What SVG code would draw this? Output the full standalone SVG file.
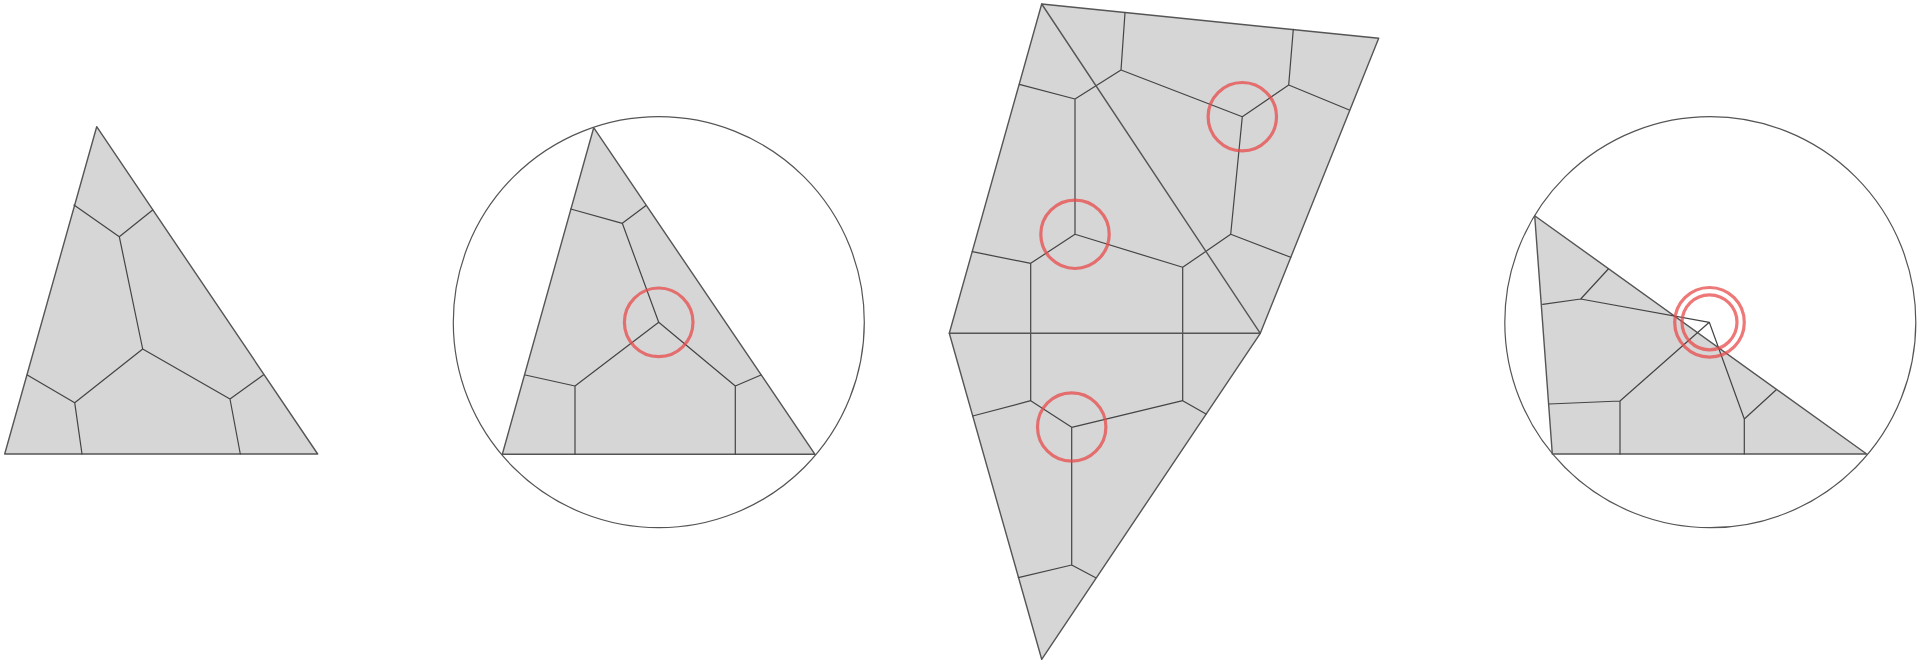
<svg xmlns="http://www.w3.org/2000/svg" width="1920" height="664" viewBox="0 0 1920 664">
<style>
.fill{fill:#d6d6d6;stroke:#555;stroke-width:1.4;stroke-linejoin:round}
.ln{fill:none;stroke:#444;stroke-width:1.2;stroke-linecap:round;stroke-linejoin:round}
.circ{fill:none;stroke:#555;stroke-width:1.2}
.mark{fill:none;stroke:#e84a4a;stroke-opacity:0.75;stroke-width:3.2}
</style>
<rect width="1920" height="664" fill="#fff"/>
<g id="fig1">
<polygon class="fill" points="96.7,126.7 317.7,454 4.7,454"/>
<path class="ln" d="M74,205 L119.3,236.7 L152.7,210 M119.3,236.7 L142.7,349 L74.7,402.7 L27.3,375 M74.7,402.7 L82,454 M142.7,349 L230,399 L263.3,375 M230,399 L240.3,454"/>
</g>
<g id="fig2">
<circle class="circ" cx="658.8" cy="322.2" r="205.5"/>
<polygon class="fill" points="593.7,127.7 815,454.3 502.3,454.3"/>
<path class="ln" d="M570.7,209 L622.3,223.3 L645.7,205.7 M622.3,223.3 L658.7,322.3 L575,386 L525.3,375 M575,386 L575,454.3 M658.7,322.3 L735.3,386 L761,375 M735.3,386 L735.3,454.3"/>
<circle class="mark" cx="658.7" cy="322.3" r="34.3"/>
</g>
<g id="fig3">
<polygon class="fill" points="1041.7,4 1378.7,38.3 1260.3,333.3 1041.7,659.3 949.3,333.3"/>
<path class="ln" d="M1125,12.7 L1121,70 L1075,99 L1019.3,84.3 M1075,99 L1075,234.3 L1030.7,263.3 L972.3,251.7 M1030.7,263.3 L1030.7,400.7 M1075,234.3 L1182.7,267.3 L1182.7,400.7 M1182.7,267.3 L1230.7,234.3 L1290.7,257.3 M1230.7,234.3 L1242.3,116.7 L1121,70 M1242.3,116.7 L1288.7,85 L1293.3,29.3 M1288.7,85 L1349.3,110 M1030.7,400.7 L972.7,416 M1030.7,400.7 L1071.7,427.3 L1182.7,400.7 L1206,414 M1071.7,427.3 L1071.7,565 L1018.3,577.7 M1071.7,565 L1095.7,577.7"/>
<path class="ln" style="stroke:#555;stroke-width:1.4" d="M1041.7,4 L1260.3,333.3 M949.3,333.3 L1260.3,333.3"/>
<circle class="mark" cx="1075" cy="234.3" r="34.2"/>
<circle class="mark" cx="1242.3" cy="116.7" r="34.2"/>
<circle class="mark" cx="1071.7" cy="427" r="34.2"/>
</g>
<g id="fig4">
<circle class="circ" cx="1710.3" cy="322.2" r="205.5"/>
<polygon class="fill" points="1534.7,215.7 1866.7,454 1552.3,454"/>
<path class="ln" d="M1608.3,269 L1580.7,299 L1542.7,304.3 M1580.7,299 L1709.3,322.3 L1620,401 L1549,404 M1620,401 L1620,454 M1709.3,322.3 L1744.3,419 L1776,390 M1744.3,419 L1744.3,454"/>
<circle class="mark" cx="1709.5" cy="322.3" r="34.8"/>
<circle class="mark" cx="1709.5" cy="322.3" r="27.5"/>
</g>
</svg>
